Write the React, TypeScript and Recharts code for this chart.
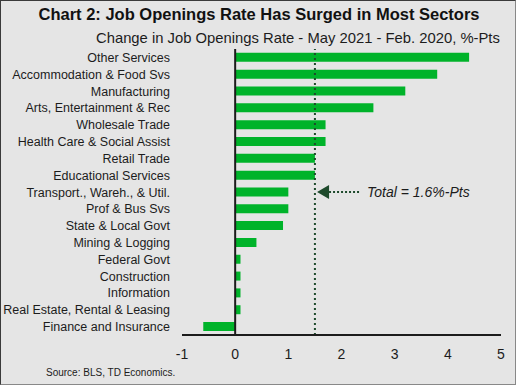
import { BarChart, Bar, XAxis, YAxis, ReferenceLine, ReferenceDot } from "recharts";

const sectors = [
  "Other Services",
  "Accommodation & Food Svs",
  "Manufacturing",
  "Arts, Entertainment & Rec",
  "Wholesale Trade",
  "Health Care & Social Assist",
  "Retail Trade",
  "Educational Services",
  "Transport., Wareh., & Util.",
  "Prof & Bus Svs",
  "State & Local Govt",
  "Mining & Logging",
  "Federal Govt",
  "Construction",
  "Information",
  "Real Estate, Rental & Leasing",
  "Finance and Insurance",
];
const changes = [4.4, 3.8, 3.2, 2.6, 1.7, 1.7, 1.5, 1.5, 1.0, 1.0, 0.9, 0.4, 0.1, 0.1, 0.1, 0.1, -0.6];
const xTicks = [-1, 0, 1, 2, 3, 4, 5];
const totalLine = 1.5;
const totalLabel = "Total = 1.6%-Pts";
const annotRow = "Transport., Wareh., & Util.";

const data = sectors.map((s, i) => ({ sector: s, change: changes[i] }));

const font = "'Liberation Sans', Arial, sans-serif";
const dark = "#1c1c1c";
const arrowCol = "#1e4a2c";

function SectorTick(props: any) {
  const { x, y, payload } = props;
  return (
    <text x={x - 4} y={y} dy={4.5} textAnchor="end" fontSize={12.5} fill={dark} fontFamily={font}>
      {payload.value}
    </text>
  );
}

function TotalArrow(props: any) {
  const { cx, cy } = props;
  if (cx == null || cy == null) return null;
  return (
    <g>
      <polygon points={`${cx},${cy} ${cx + 12},${cy - 7} ${cx + 12},${cy + 7}`} fill={arrowCol} />
      <line x1={cx + 12} y1={cy} x2={cx + 42} y2={cy} stroke={arrowCol} strokeWidth={2} strokeDasharray="2 2" />
      <text x={cx + 50} y={cy + 5} fontSize={14} fontStyle="italic" fill={dark} fontFamily={font}>
        {totalLabel}
      </text>
    </g>
  );
}

export default function App() {
  return (
    <div
      style={{
        position: "absolute", left: 0, top: 0, width: 516, height: 385, boxSizing: "border-box",
        background: "#e5e5e5", border: "1px solid #3a3a3a", borderRightColor: "#888", borderBottomColor: "#888",
        fontFamily: font, overflow: "hidden",
      }}
    >
      <div style={{ position: "absolute", left: 0, width: 516, top: 4, textAlign: "center", fontSize: 16.5, fontWeight: "bold", color: "#111" }}>
        Chart 2: Job Openings Rate Has Surged in Most Sectors
      </div>
      <div style={{ position: "absolute", left: 95, top: 29, fontSize: 14.8, color: dark, whiteSpace: "nowrap" }}>
        Change in Job Openings Rate - May 2021 - Feb. 2020, %-Pts
      </div>
      <div style={{ position: "absolute", left: 45, top: 366, fontSize: 10, color: dark }}>
        Source: BLS, TD Economics.
      </div>
      <div style={{ position: "absolute", left: -1, top: -1 }}>
        <BarChart
          width={516}
          height={385}
          data={data}
          layout="vertical"
          barCategoryGap="23%"
          margin={{ top: 49, right: 15, bottom: 20, left: 0 }}
        >
          <XAxis
            type="number"
            domain={[-1, 5]}
            ticks={xTicks}
            height={30}
            axisLine={{ stroke: dark, strokeWidth: 2 }}
            tickLine={false}
            tickMargin={8}
            tick={{ fontSize: 14, fill: dark, fontFamily: font }}
          />
          <YAxis
            type="category"
            dataKey="sector"
            width={182}
            axisLine={false}
            tickLine={false}
            interval={0}
            tick={<SectorTick />}
          />
          <ReferenceLine x={totalLine} stroke={arrowCol} strokeWidth={2} strokeDasharray="2 3" />
          <Bar dataKey="change" fill="#00b32a" isAnimationActive={false} />
          <ReferenceLine x={0} stroke={dark} strokeWidth={2} />
          <ReferenceDot x={1.54} y={annotRow} r={0} shape={TotalArrow} ifOverflow="visible" />
        </BarChart>
      </div>
    </div>
  );
}
